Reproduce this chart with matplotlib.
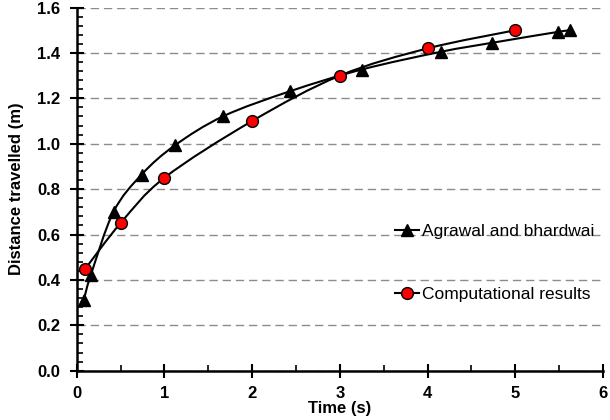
import matplotlib
matplotlib.use("Agg")
import matplotlib.pyplot as plt
from matplotlib.path import Path
from matplotlib.patches import PathPatch
from matplotlib.ticker import MultipleLocator
import numpy as np

plt.rcParams['font.family'] = ['Liberation Sans', 'DejaVu Sans']

# Agrawal and bhardwai
agr_t = [0.08, 0.16, 0.42, 0.74, 1.12, 1.67, 2.43, 3.25, 4.15, 4.74, 5.49, 5.62]
agr_d = [0.31, 0.42, 0.70, 0.864, 0.993, 1.121, 1.231, 1.327, 1.405, 1.445, 1.493, 1.499]
# Computational results
comp_t = [0.1, 0.5, 1.0, 2.0, 3.0, 4.0, 5.0]
comp_d = [0.45, 0.65, 0.85, 1.10, 1.30, 1.42, 1.50]


def smooth_path(xs, ys):
    # excel-style smoothed line: cubic bezier with catmull-rom control points
    p = np.column_stack([xs, ys]).astype(float)
    n = len(p)
    verts = [p[0]]
    codes = [Path.MOVETO]
    for i in range(n - 1):
        prev = p[i - 1] if i > 0 else p[i]
        nxt = p[i + 2] if i + 2 < n else p[i + 1]
        c1 = p[i] + (p[i + 1] - prev) / 6.0
        c2 = p[i + 1] - (nxt - p[i]) / 6.0
        verts += [c1, c2, p[i + 1]]
        codes += [Path.CURVE4] * 3
    return Path(verts, codes)


fig = plt.figure(figsize=(6.1, 4.2), dpi=100)
ax = fig.add_axes([0.1257, 0.1174, 0.8628, 0.8646])
ax.set_xlim(0, 6)
ax.set_ylim(0, 1.6)

for xs, ys in [(agr_t, agr_d), (comp_t, comp_d)]:
    ax.add_patch(PathPatch(smooth_path(xs, ys), facecolor='none',
                           edgecolor='black', lw=1.5, zorder=3))

ax.plot(agr_t, agr_d, ls='none', marker='^', ms=8, color='black', zorder=4)
ax.plot(comp_t, comp_d, ls='none', marker='o', ms=8.5, mfc='#ff0000',
        mec='black', mew=1.0, zorder=4)

# legend handles
h1, = ax.plot([], [], '-^', color='black', lw=1.5, ms=8)
h2, = ax.plot([], [], '-o', color='black', lw=1.5, ms=8.5, mfc='#ff0000', mec='black')
ax.legend([h1, h2], ['Agrawal and bhardwai', 'Computational results'],
          loc='upper left', bbox_to_anchor=(0.605, 0.405), frameon=False,
          fontsize=12.5, handlelength=1.4, handletextpad=0.15,
          labelspacing=2.75, borderpad=0, borderaxespad=0)

ax.yaxis.grid(True, color='#8c8c8c', linestyle=(0, (6, 3.5)), lw=1.0)
ax.set_axisbelow(True)

ax.xaxis.set_major_locator(MultipleLocator(1))
ax.xaxis.set_minor_locator(MultipleLocator(0.5))
ax.yaxis.set_major_locator(MultipleLocator(0.2))
ax.yaxis.set_minor_locator(MultipleLocator(0.04))
ax.set_yticklabels([f'{v:.1f}' for v in ax.get_yticks()])

for s in ['top', 'right']:
    ax.spines[s].set_visible(False)
for s in ['left', 'bottom']:
    ax.spines[s].set_linewidth(1.8)

ax.tick_params(which='major', direction='inout', length=10, width=1.5,
               labelsize=12)
ax.tick_params(axis='y', which='major', pad=7)
ax.tick_params(axis='x', which='major', pad=6)
ax.tick_params(which='minor', direction='in', length=4, width=1.2)
for lbl in ax.get_xticklabels() + ax.get_yticklabels():
    lbl.set_fontweight('bold')

ax.set_xlabel('Time (s)', fontsize=12, fontweight='bold', labelpad=0)
ax.set_ylabel('Distance travelled (m)', fontsize=12, fontweight='bold', labelpad=9)

fig.savefig('out.png', dpi=100)
